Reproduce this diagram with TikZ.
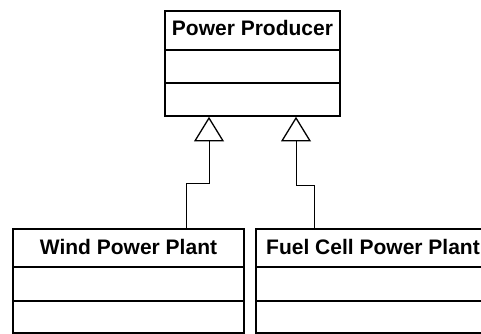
\documentclass[tikz,border=0pt]{standalone}
\usepackage{fontspec}
\setmainfont{Liberation Sans}
\usetikzlibrary{arrows.meta}
\tikzset{
  classbox/.style={draw, line width=1.6pt, rectangle, inner sep=0pt},
  divider/.style={line width=1.6pt},
  title/.style={font=\bfseries\fontsize{21}{24}\selectfont, anchor=base, inner sep=0pt},
  gen/.style={line width=1pt, -{Triangle[open, length=24.7pt, width=30pt, line width=1.3pt]}}
}
\begin{document}
\begin{tikzpicture}[x=1pt,y=1pt]
\useasboundingbox (0,0) rectangle (481,334);
\clip (0,0) rectangle (481,334);
% Power Producer
\node[classbox, minimum width=175pt, minimum height=105pt] (pp) at (252.5,270.5) {};
\draw[divider] (pp.west |- 0,284) -- (pp.east |- 0,284);
\draw[divider] (pp.west |- 0,251) -- (pp.east |- 0,251);
\node[title] (ppt) at (252.5,298) {Power Producer};
% Wind Power Plant
\node[classbox, minimum width=231pt, minimum height=104pt] (wpp) at (128.5,53) {};
\draw[divider] (wpp.west |- 0,67) -- (wpp.east |- 0,67);
\draw[divider] (wpp.west |- 0,33) -- (wpp.east |- 0,33);
\node[title] (wppt) at (128.5,79) {Wind Power Plant};
% Fuel Cell Power Plant
\node[classbox, minimum width=234pt, minimum height=104pt] (fcp) at (373,53) {};
\draw[divider] (fcp.west |- 0,67) -- (fcp.east |- 0,67);
\draw[divider] (fcp.west |- 0,33) -- (fcp.east |- 0,33);
\node[title] (fcpt) at (373,79) {Fuel Cell Power Plant};
% connectors
\coordinate (lx) at (186.5,0);
\coordinate (lel) at (209,150);
\coordinate (rx) at (314.5,0);
\coordinate (rel) at (296,148);
\draw[gen] (wpp.north -| lx) |- (lel) -- (pp.south -| lel);
\draw[gen] (fcp.north -| rx) |- (rel) -- (pp.south -| rel);
\end{tikzpicture}
\end{document}
